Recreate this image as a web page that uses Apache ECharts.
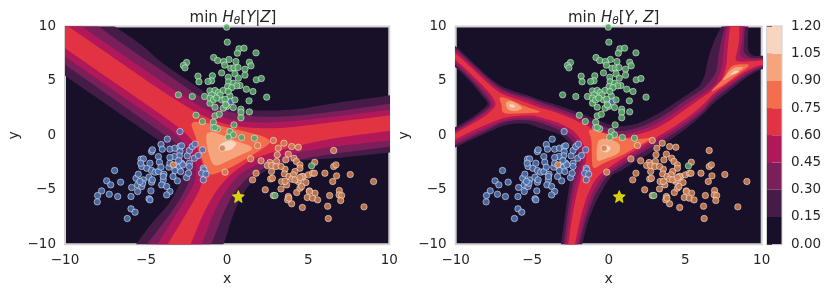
<!DOCTYPE html>
<html><head><meta charset="utf-8">
<style>html,body{margin:0;padding:0;background:#fff}#c{width:830px;height:293px}</style>
<script src="https://cdn.jsdelivr.net/npm/echarts@6/dist/echarts.min.js"></script></head>
<body><div id="c"></div>
<script>
const levels=[0,0.15,0.30,0.45,0.60,0.75,0.90,1.05,1.20];
const levelColors=['#180f29','#451c47','#7a1f59','#b0185a','#e13342','#f36e4c','#f6a47c','#f8d5bf'];
const tickValues=[-10,-5,0,5,10];

// contour outlines, data coordinates, left panel
const left15=[[-7.6,10.7],[-6.92,10],[-5.17,8.22],[-4.14,6.75],[-1.88,4.49],[-.24,2.77],[1,2.34],[2.64,2.25],[4.49,2.4],[6.55,2.96],[10,3.66],[10.7,3.85],[10.7,-1.5],[10,-1.58],[6.75,-2.1],[3.67,-2.4],[2.03,-3.48],[1.1,-5],[.38,-7.15],[-.2,-10],[-.5,-10.7],[-6,-10.7],[-5.62,-10],[-4.66,-8.07],[-3.53,-6.23],[-2.7,-3.78],[-3.01,-2.25],[-3.94,-.72],[-5.07,.38],[-7.84,3.26],[-10,5.47],[-10.7,6.2],[-10.7,10.7]];
const left30=[[-8.6,10.7],[-7.94,10],[-5.79,7.7],[-4.14,6.08],[-1.88,3.72],[-.24,2.28],[1.2,1.79],[2.85,1.67],[4.9,1.88],[7.37,2.34],[10,2.89],[10.7,3.05],[10.7,-.95],[10,-1.03],[6.55,-1.7],[4.49,-2.19],[2.44,-2.86],[1.31,-3.78],[.38,-5.31],[-.24,-7.15],[-.96,-10],[-1.3,-10.7],[-5.3,-10.7],[-4.96,-10],[-3.94,-8.07],[-2.91,-5.93],[-2.19,-3.78],[-2.29,-2.25],[-3.11,-.72],[-4.45,.66],[-7.84,4.24],[-10,6.48],[-10.7,7.2],[-10.7,10.7]];
const left45=[[-9.6,10.7],[-8.97,10],[-6.81,7.79],[-4.14,5.04],[-1.88,2.8],[-.24,1.58],[1.2,1.21],[3.05,1.18],[5.31,1.49],[10,2.34],[10.7,2.5],[10.7,-.4],[10,-.47],[6.55,-1.03],[4.08,-1.64],[2.23,-2.4],[.79,-3.48],[-.13,-5.16],[-.85,-7.15],[-1.57,-10],[-1.9,-10.7],[-4.6,-10.7],[-4.29,-10],[-3.11,-7.15],[-1.98,-4.39],[-1.88,-2.86],[-2.39,-1.03],[-3.42,.47],[-7.84,5],[-10,7.24],[-10.7,8],[-10.7,10.7]];
const left60=[[-10.5,10.7],[-9.79,10],[-6.81,6.94],[-4.14,4.18],[-1.68,1.88],[-.03,.96],[1.61,.66],[3.46,.66],[5.72,1.06],[10,1.82],[10.7,2],[10.7,.5],[10,.41],[6.55,-.26],[3.67,-1.18],[1.61,-2.1],[.28,-3.48],[-.65,-5],[-1.47,-7.15],[-2.25,-10],[-2.5,-10.7],[-4,-10.7],[-3.67,-10],[-2.5,-7.15],[-1.57,-4.7],[-1.47,-2.86],[-1.88,-1.03],[-2.7,.5],[-7.84,5.77],[-10,8],[-10.7,8.8],[-10.7,10.7]];
const left75=[[-2.33,1.36],[-.85,1.06],[3.05,-.35],[1.61,-1.79],[.17,-3.02],[-1.16,-3.78],[-1.47,-2.56],[-1.88,-.41]];
const left90=[[-1.31,.2],[-.85,.35],[.38,-.41],[1.82,-1.18],[.38,-2.1],[-.65,-2.86],[-.96,-2.56],[-1.26,-1.03]];
const left105=[[-.54,-.87],[.17,-.41],[.63,-.72],[.28,-1.33],[-.34,-1.49]];

// contour outlines, data coordinates, right panel
const right15=[[-10.6,8.7],[-10,8.21],[-8.93,6.77],[-7.84,5.33],[-7.08,4.54],[-6.32,4.11],[-5.23,3.65],[-4.49,3.25],[-3.18,2.7],[-1.87,2.05],[-.79,1.45],[.1,.95],[.74,.81],[1.61,.96],[2.48,1.42],[3.57,2.27],[4.66,3.31],[5.75,4.32],[5.97,4.6],[6.29,5.52],[6.4,6.43],[6.62,7.66],[6.95,8.88],[7.38,10.01],[7.6,10.7],[9.1,10.7],[9.13,9.95],[9.08,8.57],[9.13,7.66],[9.45,7.29],[10,7.3],[10.6,7.4],[10.6,5.95],[10,6.15],[9.02,5.36],[7.93,4.14],[6.84,2.95],[6.19,1.95],[5.1,.65],[4.01,-.42],[2.92,-1.43],[1.83,-2.34],[.74,-3.32],[.19,-3.63],[-.68,-5.61],[-1.33,-7.75],[-1.72,-9.96],[-1.85,-10.7],[-3.2,-10.7],[-3.12,-9.96],[-2.96,-8.37],[-2.75,-6.23],[-2.53,-4.08],[-2.31,-2.25],[-2.2,-1.79],[-2.53,-.72],[-3.18,.14],[-4.49,.66],[-5.23,1.08],[-6.1,1.11],[-6.97,.87],[-8.06,.19],[-9.15,-.51],[-10,-1.09],[-10.6,-1.5],[-10.6,.4],[-10,.75],[-8.93,1.63],[-8.28,2.34],[-7.84,2.89],[-8.24,3.56],[-8.93,4.78],[-10,6.25],[-10.6,6.9]];
const right30=[[-10.6,8.5],[-10,8],[-8.93,6.56],[-7.84,5.15],[-7.08,4.32],[-6.32,3.86],[-5.23,3.47],[-4.49,3.05],[-3.18,2.45],[-1.87,1.75],[-.79,1.05],[.1,.6],[.74,.35],[1.72,.59],[2.7,1.11],[3.79,1.97],[4.88,3.1],[6.08,4.17],[6.51,4.75],[7.06,5.82],[7.17,7.35],[7.38,8.88],[7.6,10.01],[7.7,10.7],[8.9,10.7],[8.91,9.95],[8.84,8.57],[8.8,7.66],[9.13,7.2],[9.56,7.1],[10,7.15],[10.6,7.2],[10.6,6.05],[10,6.28],[9.02,5.58],[7.93,4.45],[6.84,3.31],[6.19,2.2],[5.1,.96],[4.01,-.05],[2.92,-.97],[1.83,-1.88],[.74,-2.92],[-.18,-3.78],[-.96,-5.61],[-1.51,-7.75],[-1.92,-9.96],[-2.05,-10.7],[-3,-10.7],[-2.92,-9.96],[-2.75,-7.75],[-2.53,-5.61],[-2.2,-3.47],[-1.87,-2.25],[-1.98,-1.48],[-2.42,-.41],[-3.18,.51],[-4.49,1.18],[-5.01,1.36],[-6.1,1.42],[-6.97,1.17],[-8.06,.41],[-9.15,-.29],[-10,-.88],[-10.6,-1.3],[-10.6,.1],[-10,.5],[-8.93,1.42],[-8.17,2.18],[-7.67,2.79],[-8.06,3.62],[-8.93,5.03],[-10,6.49],[-10.6,7.1]];
const right45=[[-10.6,8.3],[-10,7.78],[-8.93,6.4],[-7.84,4.93],[-7.08,4.11],[-6.32,3.71],[-5.23,3.25],[-4.49,2.8],[-3.18,2.2],[-1.87,1.5],[-.79,.7],[.1,.2],[.74,-.02],[1.79,.32],[2.81,.81],[3.9,1.66],[4.99,2.79],[6.19,3.86],[6.95,4.6],[7.38,6.13],[7.49,7.66],[7.6,8.88],[7.75,10],[7.85,10.7],[8.8,10.7],[8.8,9.95],[8.69,8.57],[8.54,7.5],[8.8,7.05],[9.34,6.98],[10,7.02],[10.6,7.05],[10.6,6.2],[10,6.4],[9.02,5.76],[7.93,4.66],[6.84,3.62],[6.19,2.43],[5.1,1.27],[4.01,.26],[2.92,-.66],[1.83,-1.58],[.74,-2.62],[-.46,-3.78],[-1.18,-5.61],[-1.66,-7.75],[-2.05,-9.96],[-2.2,-10.7],[-2.85,-10.7],[-2.79,-9.96],[-2.57,-7.45],[-2.31,-5.31],[-1.98,-3.47],[-1.66,-2.25],[-1.77,-1.17],[-2.31,-.04],[-3.18,.81],[-4.49,1.43],[-5.01,1.57],[-6.1,1.57],[-6.97,1.33],[-8.06,.65],[-9.15,-.05],[-10,-.66],[-10.6,-1.1],[-10.6,0],[-10,.35],[-8.93,1.27],[-8.06,2.09],[-7.52,2.79],[-7.95,3.77],[-8.93,5.24],[-10,6.68],[-10.6,7.4]];
const right60=[[-10.6,8.1],[-10,7.53],[-8.93,6.16],[-7.84,4.69],[-7.08,3.86],[-6.32,3.47],[-5.23,2.95],[-4.49,2.55],[-3.18,2],[-1.87,1.2],[-.5,.2],[.74,-.42],[1.83,.04],[2.92,.5],[4.01,1.36],[5.1,2.49],[6.19,3.56],[7.27,4.6],[7.71,6.43],[7.75,7.66],[7.84,8.88],[7.93,10],[8,10.7],[8.55,10.7],[8.54,9.95],[8.54,8.88],[8.41,7.81],[8.25,6.89],[8.58,6.75],[9.34,6.8],[10,6.9],[10.6,6.95],[10.6,6.3],[10,6.53],[9.02,5.98],[7.93,4.91],[6.84,3.84],[6.19,2.82],[5.1,1.57],[4.01,.56],[2.92,-.36],[1.83,-1.27],[.74,-2.25],[-.79,-3.78],[-1.44,-5.61],[-1.88,-7.75],[-2.2,-9.96],[-2.35,-10.7],[-2.75,-10.7],[-2.64,-9.96],[-2.42,-7.75],[-2.14,-5.61],[-1.77,-3.63],[-1.44,-2.25],[-1.55,-1.02],[-2.2,.36],[-3.18,1.12],[-4.49,1.67],[-5.01,1.85],[-6.1,1.79],[-6.97,1.57],[-8.06,.96],[-9.15,.26],[-10,-.36],[-10.6,-.8],[-10.6,-.1],[-10,.19],[-8.93,1.05],[-7.95,1.88],[-7.3,2.79],[-7.74,3.86],[-8.93,5.55],[-10,6.92],[-10.6,7.6]];
const right75a=[[-7.19,3.56],[-6.64,3.41],[-5.45,2.64],[-4.25,2.12],[-5.55,2.03],[-6.75,1.97],[-6.97,2.18],[-7,2.79]];
const right90a=[[-6.75,3.1],[-6.32,3.19],[-5.55,2.49],[-6.1,2.18],[-6.64,2.34]];
const right105a=[[-6.58,2.79],[-6.32,2.89],[-6.06,2.64],[-6.32,2.49]];
const right75b=[[-1.38,.66],[-.13,.14],[1.61,-.41],[3.03,-.16],[2.05,-.87],[.74,-1.94],[-.35,-2.55],[-1.05,-3.16],[-1.11,-1.94],[-1.11,-.41]];
const right90b=[[-.68,-.41],[-.13,-.26],[.74,-.72],[.74,-1.63],[-.35,-2.24],[-.79,-2.4],[-.79,-1.33]];
const right105b=[[-.46,-1.08],[-.13,-.87],[.19,-1.17],[-.13,-1.63],[-.39,-1.48]];
const right75c=[[6.51,3.83],[7.49,5.21],[7.93,6.28],[8.36,6.53],[9.34,6.53],[8.36,5.52],[7.49,4.6]];
const right90c=[[7.38,4.91],[7.82,5.82],[8.25,6.28],[8.91,6.28],[8.25,5.67]];
const right105c=[[7.93,5.52],[8.25,5.98],[8.58,5.88],[8.25,5.64]];

// scatter points
const greenPoints=[[-.03,9.94],[.01,8.56],[.73,7.95],[1.04,8.01],[.63,7.55],[1.78,7.58],[-.83,7.15],[-.59,6.88],[.11,6.97],[-.22,6.78],[-.15,6.45],[.54,6.78],[1.37,6.72],[1.47,6.39],[-2.5,6.69],[-2.7,6.42],[-2.6,6.2],[-1.8,5.44],[-1.74,4.92],[-.91,5.47],[-.96,5.01],[-1.18,4.95],[-.34,5.74],[1.1,6.08],[1.1,5.53],[.22,6.17],[.42,6.2],[.67,6.23],[.07,5.34],[.48,5.65],[.69,5.25],[.09,4.92],[.38,4.79],[.79,4.58],[.59,4.55],[.03,4.49],[1.8,5.1],[2.11,5.22],[1.18,4.24],[1.59,4.03],[-3.01,3.72],[-2.15,3.57],[-1.39,3.57],[-1.06,4.09],[-.75,4.12],[-.54,3.94],[-.96,3.72],[-.24,4.12],[.28,4.39],[2.44,3.51],[1.35,3.17],[.85,2.4],[.85,2.13],[1.37,2.16],[.85,1.61],[.38,2.56],[-.03,2.65],[-1.06,2.96],[-.75,2.59],[-.34,3.26],[.17,3.63],[-.44,3.72],[-.13,3.32],[-1.06,3.42],[-.24,2.5],[-1.92,1.85],[-.75,1.79],[-.48,1.94],[-.09,2.8],[-.85,3.26],[-.65,3.42],[.07,4.03],[.48,3.26],[-1.53,1.27],[-.85,1.21],[.42,.96],[-.59,.6],[-.75,.72],[.17,.35],[.38,.05],[.07,-.17],[.89,-.2],[1.68,-.26],[5.21,-2.8],[2.95,-5.53]];
const bluePoints=[[-6.94,-3.23],[-7.43,-4.18],[-7.18,-4.55],[-6.57,-4.3],[-7.74,-5.1],[-7.99,-5.53],[-8.01,-6.11],[-7.27,-5.41],[-6.75,-5.62],[-5.93,-5.62],[-5.89,-4.79],[-5.52,-5.16],[-5.52,-4.55],[-5.27,-4.7],[-5.62,-3.94],[-5.48,-3.57],[-5.17,-4.09],[-4.82,-3.84],[-4.66,-4.3],[-4.61,-4.09],[-5.27,-2.86],[-5.31,-2.19],[-4.96,-3.02],[-5.17,-2.16],[-5.33,-2.56],[-4.76,-2.56],[-4.66,-1.49],[-4.61,-1.33],[-4.24,-1.95],[-4.18,-2.47],[-4.08,-.84],[-4,-1.27],[-3.69,-.35],[-4.66,-3.23],[-4.45,-3.38],[-4.24,-3.32],[-4.08,-2.92],[-3.9,-3.57],[-3.94,-4.09],[-4.04,-4.55],[-3.73,-4.7],[-3.53,-5.16],[-3.73,-5.47],[-4.7,-5.1],[-4.82,-5.83],[-4.76,-5.93],[-5.93,-6.75],[-5.68,-7.06],[-6.16,-7.64],[-3.53,-1.27],[-3.22,-1.18],[-2.91,-1.03],[-2.81,-.96],[-2.91,-1.49],[-2.95,-1.88],[-3.26,-1.95],[-3.53,-2.04],[-3.59,-2.92],[-3.11,-2.71],[-2.81,-2.56],[-2.95,-2.92],[-2.74,-2.71],[-3.22,-3.23],[-3.07,-4.18],[-3.34,-3.78],[-2.87,-3.32],[-2.5,-3.87],[-2.39,-3.48],[-2.33,-2.56],[-2.33,-2.86],[-2.46,-1.88],[-2.33,-1.39],[-2.02,-2.1],[-2.15,-1.03],[-1.98,-.81],[-1.78,-1.85],[-1.51,-1.33],[-1.47,-3.02],[-1.43,-3.17],[-1.57,-3.48],[-1.31,-3.57],[-1.47,-4.09],[-2.91,.35],[-5.21,-4.4],[-5.38,-4.24],[-3.94,-3.78],[-2.99,-2.31],[-3.53,-2.56],[-.07,3.02],[.24,3.11],[-.85,.72]];
const orangePoints=[[2.85,-.47],[1.88,-.93],[3.5,-.72],[3.98,-1.03],[4.39,-1.09],[3.15,-1.18],[3.09,-1.79],[3.77,-1.73],[3.61,-2.25],[4.12,-2.1],[4.27,-2.4],[4.49,-2.71],[4.49,-3.02],[4.18,-3.32],[3.57,-3.11],[3.53,-3.54],[3.81,-3.78],[4.08,-3.63],[3.98,-4.03],[3.67,-4.55],[3.36,-4.24],[3.57,-4.24],[3.05,-2.4],[2.64,-2.5],[2.48,-2.77],[2.74,-2.77],[3.01,-2.86],[3.32,-2.86],[2.74,-3.32],[1.78,-3.48],[1.57,-4.09],[2.68,-4],[2.79,-3.94],[2.35,-5],[3.32,-4.92],[2.85,-5.53],[3.77,-5.62],[3.73,-5.93],[3.98,-6.29],[4.29,-5.25],[4.64,-6.63],[4.49,-4.85],[4.39,-4.24],[4.7,-3.78],[4.86,-4.33],[5.01,-3.63],[5.27,-3.48],[5.38,-3.48],[4.59,-4.7],[4.45,-4.09],[5.07,-5.1],[4.94,-5.71],[5.42,-5.31],[5.27,-5.77],[5.58,-5.93],[5.4,-2.47],[6.03,-3.48],[6.57,-1.39],[6.57,-2.86],[6.71,-2.71],[6.75,-3.72],[6.51,-4.24],[7.59,-3.6],[6.32,-5.53],[6.2,-6.51],[6.92,-5.07],[6.9,-5.47],[7.06,-5.53],[7,-5.99],[6.24,-7.64],[8.44,-6.57],[9.03,-4.24],[4.61,-3.78],[4.18,-4.09],[4.49,-3.87],[3.81,-5.77],[5.07,-5.16],[-.3,-1.18],[-.13,-3.38],[1.45,-2.16],[2.09,-2.34],[-3.32,-2.71]];
const starPoint=[[.69,-5.62]];

const leftPolys=[[left15,1],[left30,2],[left45,3],[left60,4],[left75,5],[left90,6],[left105,7]];
const rightPolys=[[right15,1],[right30,2],[right45,3],[right60,4],[right75a,5],[right75b,5],[right75c,5],[right90a,6],[right90b,6],[right90c,6],[right105a,7],[right105b,7],[right105c,7]];

const FONT='DejaVu Sans', TXT='#262626', SPINE='#d2d2d2';
const STAR='path://M50 0 L64 32 L100 36 L73 59 L81 95 L50 76 L19 95 L27 59 L0 36 L36 32 Z';

// rounds the outline corners without overshooting the plotted edges
function roundCorners(points,rounds){
  let out=points;
  for(let r=0;r<rounds;r++){
    const next=[];
    out.forEach((p,i)=>{
      const q=out[(i+1)%out.length];
      next.push([p[0]*.8+q[0]*.2,p[1]*.8+q[1]*.2],[p[0]*.2+q[0]*.8,p[1]*.2+q[1]*.8]);
    });
    out=next;
  }
  return out;
}
function contourSeries(polys,idx){
  return {type:'custom',xAxisIndex:idx,yAxisIndex:idx,clip:true,silent:true,z:1,
    data:polys.map(()=>[0,0]),
    renderItem(params,api){
      const p=polys[params.dataIndex];
      return {type:'polygon',shape:{points:roundCorners(p[0].map(c=>api.coord(c)),3)},
        style:{fill:levelColors[p[1]]}};
    }};
}
function pts(data,color,idx,z){
  return {type:'scatter',xAxisIndex:idx,yAxisIndex:idx,data,symbolSize:6.4,silent:true,z,
    itemStyle:{color,opacity:.88,borderColor:'rgba(255,255,255,.8)',borderWidth:.7}};
}
function star(idx){
  return {type:'scatter',xAxisIndex:idx,yAxisIndex:idx,data:starPoint,symbol:STAR,symbolSize:12,silent:true,z:6,
    itemStyle:{color:'#ffff00',borderColor:'#ffff00',borderWidth:.8}};
}
const fmt=v=>String(v).replace('-','\u2212');
function xAx(i){return {gridIndex:i,type:'value',min:-10,max:10,interval:5,name:'x',nameLocation:'middle',nameGap:27,
  nameTextStyle:{fontFamily:FONT,fontSize:14,color:TXT},
  axisLine:{show:false},axisTick:{show:false},splitLine:{show:false},
  axisLabel:{fontFamily:FONT,fontSize:13.5,color:TXT,margin:9,formatter:fmt,showMinLabel:true,showMaxLabel:true}};}
function yAx(i){return {gridIndex:i,type:'value',min:-10,max:10,interval:5,name:'y',nameLocation:'middle',nameGap:44,
  nameTextStyle:{fontFamily:FONT,fontSize:14,color:TXT},
  axisLine:{show:false},axisTick:{show:false},splitLine:{show:false},
  axisLabel:{fontFamily:FONT,fontSize:13.5,color:TXT,margin:9,padding:[5,0,0,0],formatter:fmt,showMinLabel:true,showMaxLabel:true}};}
const rich={r:{fontFamily:FONT,fontSize:15,color:TXT},i:{fontFamily:FONT,fontSize:15,fontStyle:'italic',color:TXT},
  s:{fontFamily:FONT,fontSize:10.5,fontStyle:'italic',color:TXT,padding:[6,0,0,0]}};
function title(txt,cx){return {text:txt,left:cx,top:5,textAlign:'center',textStyle:{rich,fontFamily:FONT,fontSize:15,fontWeight:'normal',color:TXT}};}
const gridBase={show:true,top:26.5,height:217.7,borderColor:SPINE,borderWidth:2,backgroundColor:levelColors[0],containLabel:false};

const colorbarData=levelColors.map((c,i)=>[levels[i],levels[i+1]]);

const option={animation:false,backgroundColor:'#fff',
  title:[title('{r|min }{i|H}{s|θ}{r|[}{i|Y}{r||}{i|Z}{r|]}',228),title('{r|min }{i|H}{s|θ}{r|[}{i|Y}{r|, }{i|Z}{r|]}',608.7)],
  grid:[Object.assign({},gridBase,{left:65,width:324.3}),Object.assign({},gridBase,{left:455.7,width:306}),
        Object.assign({},gridBase,{left:767,width:14.5,backgroundColor:'#fff'})],
  xAxis:[xAx(0),xAx(1),{gridIndex:2,type:'value',min:0,max:1,show:false}],
  yAxis:[yAx(0),yAx(1),{gridIndex:2,type:'value',position:'right',min:0,max:1.2,interval:0.15,
    axisLine:{show:false},splitLine:{show:false},
    axisTick:{show:true,length:5,inside:false,lineStyle:{color:TXT,width:.8}},
    axisLabel:{fontFamily:FONT,fontSize:13.5,color:TXT,margin:9.5,padding:[5,0,0,0],formatter:v=>v.toFixed(2),showMinLabel:true,showMaxLabel:true}}],
  series:[
    contourSeries(leftPolys,0),contourSeries(rightPolys,1),
    pts(bluePoints,'#4c72b0',0,3),pts(orangePoints,'#d08050',0,4),pts(greenPoints,'#55a868',0,5),star(0),
    pts(bluePoints,'#4c72b0',1,3),pts(orangePoints,'#d08050',1,4),pts(greenPoints,'#55a868',1,5),star(1),
    {type:'custom',xAxisIndex:2,yAxisIndex:2,clip:true,silent:true,data:colorbarData,
     encode:{y:[0,1]},
     renderItem(params,api){
       const a=api.coord([0,api.value(0)]),b=api.coord([1,api.value(1)]);
       return {type:'rect',shape:{x:a[0],y:b[1],width:b[0]-a[0],height:a[1]-b[1]},style:{fill:levelColors[params.dataIndex]}};
     }}
  ]};
echarts.init(document.getElementById('c'),null,{renderer:'canvas'}).setOption(option);
</script></body></html>
